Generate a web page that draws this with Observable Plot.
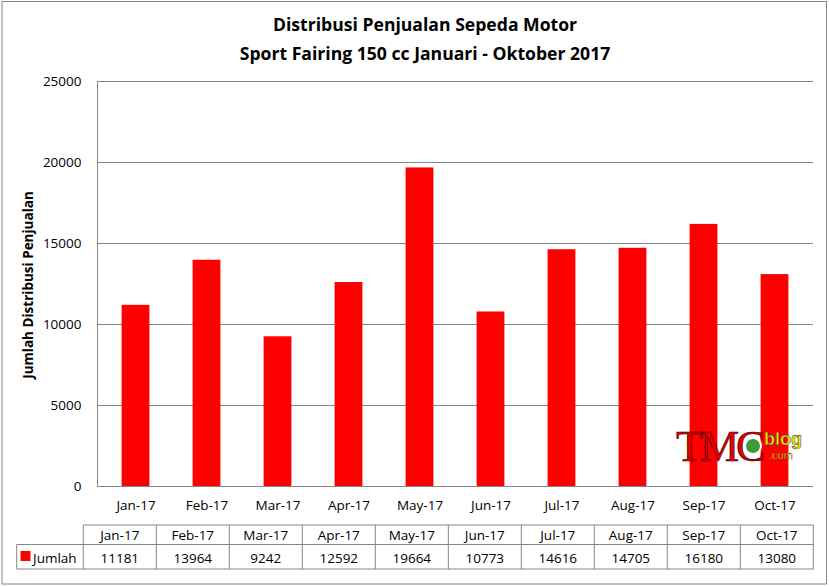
<!DOCTYPE html>
<html><head><meta charset="utf-8">
<script src="https://cdn.jsdelivr.net/npm/d3@7"></script>
<script src="https://cdn.jsdelivr.net/npm/@observablehq/plot@0.6"></script>
<style>body{margin:0;background:#fff} #chart{width:829px;height:586px}</style>
</head><body><div id="chart"></div>
<script>
const months = ["Jan-17","Feb-17","Mar-17","Apr-17","May-17","Jun-17","Jul-17","Aug-17","Sep-17","Oct-17"];
const values = [11181,13964,9242,12592,19664,10773,14616,14705,16180,13080];
const yTicks = [0,5000,10000,15000,20000,25000];
const titleLines = ["Distribusi Penjualan Sepeda Motor","Sport Fairing 150 cc Januari - Oktober 2017"];
const yLabel = "Jumlah Distribusi Penjualan";
const seriesName = "Jumlah";

const data = months.map((m,i)=>({month:m, value:values[i]}));
const font = "'Open Sans', sans-serif";
const gray = "#868686";

const plot = Plot.plot({
  width:829, height:586, marginLeft:97, marginRight:16, marginTop:81, marginBottom:100,
  style:{fontFamily:font, fontSize:"13.5px", color:"#000", background:"#fff", overflow:"visible"},
  x:{domain:months, padding:0, label:null},
  y:{domain:[0,25000], label:null},
  marks:[
    Plot.gridY(yTicks,{stroke:gray, strokeOpacity:1}),
    Plot.frame({anchor:"left", stroke:gray}),
    Plot.barY(data,{x:"month", y:"value", fill:"#ff0000", insetLeft:21.6, insetRight:21.6}),
    Plot.ruleY([0],{stroke:gray}),
    Plot.axisY(yTicks,{tickSize:0, tickPadding:16, label:null, tickFormat:d=>String(d)}),
    Plot.axisX({tickSize:0, tickPadding:14, label:null})
  ]
});
document.getElementById("chart").appendChild(plot);

const svg = d3.select(plot);
// outer border
svg.append("rect").attr("x",2).attr("y",1.5).attr("width",824.5).attr("height",582.5)
  .attr("fill","none").attr("stroke",gray);
// title
svg.append("g").selectAll("text").data(titleLines).join("text")
  .attr("x",425).attr("y",(d,i)=>31+i*29).attr("text-anchor","middle")
  .attr("font-family",font).attr("font-weight","bold").attr("font-size",17.6).attr("fill","#000")
  .text(d=>d);
// y label
svg.append("text").attr("transform","translate(33,285) rotate(-90)").attr("text-anchor","middle")
  .attr("font-family",font).attr("font-weight","bold").attr("font-size",13.5).text(yLabel);

// data table
const tx = d3.scaleBand().domain(months).range([83.3,813.3]);
const tTop = 525, tMid = 544.5, tBot = 569, tLeft = 16.7;
const tg = svg.append("g").attr("stroke",gray).attr("fill","none");
tg.append("line").attr("x1",83.3).attr("x2",813.3).attr("y1",tTop).attr("y2",tTop);
tg.append("line").attr("x1",tLeft).attr("x2",813.3).attr("y1",tMid).attr("y2",tMid);
tg.append("line").attr("x1",tLeft).attr("x2",813.3).attr("y1",tBot).attr("y2",tBot);
tg.append("line").attr("x1",tLeft).attr("x2",tLeft).attr("y1",tMid).attr("y2",tBot);
tg.selectAll(".v").data([...months.map(m=>tx(m)), 813.3]).join("line")
  .attr("x1",d=>d).attr("x2",d=>d).attr("y1",tTop).attr("y2",tBot);
const txt = svg.append("g").attr("font-family",font).attr("font-size",13.5).attr("fill","#000").attr("text-anchor","middle");
txt.selectAll(".h").data(months).join("text").attr("x",m=>tx(m)+tx.bandwidth()/2).attr("y",540).text(m=>m);
txt.selectAll(".d").data(data).join("text").attr("x",d=>tx(d.month)+tx.bandwidth()/2).attr("y",562.5).text(d=>String(d.value));
svg.append("rect").attr("x",20.5).attr("y",551).attr("width",10).attr("height",10).attr("fill","#ff0000");
svg.append("text").attr("x",33).attr("y",562.5).attr("text-anchor","start").attr("font-family",font).attr("font-size",13.5).text(seriesName);

// watermark
const wm = svg.append("g").attr("text-anchor","start");
wm.append("text").attr("x",676).attr("y",461).attr("font-family","'Liberation Serif', serif")
  .attr("font-size",44).attr("fill","#e00000").attr("stroke","#300").attr("stroke-width",0.6).attr("letter-spacing",-3).text("TMC");
wm.append("circle").attr("cx",753).attr("cy",446).attr("r",8).attr("fill","#3a9a3a").attr("stroke","#fff").attr("stroke-width",2);
wm.append("text").attr("x",764).attr("y",445).attr("font-family","'Liberation Sans', sans-serif").attr("font-weight","bold")
  .attr("font-size",18).attr("fill","#f2e600").attr("stroke","#333").attr("stroke-width",0.5).text("blog");
wm.append("text").attr("x",769).attr("y",459).attr("font-family","'Liberation Sans', sans-serif")
  .attr("font-size",11).attr("fill","#f2e600").attr("stroke","#333").attr("stroke-width",0.3).text(".com");
</script></body></html>
